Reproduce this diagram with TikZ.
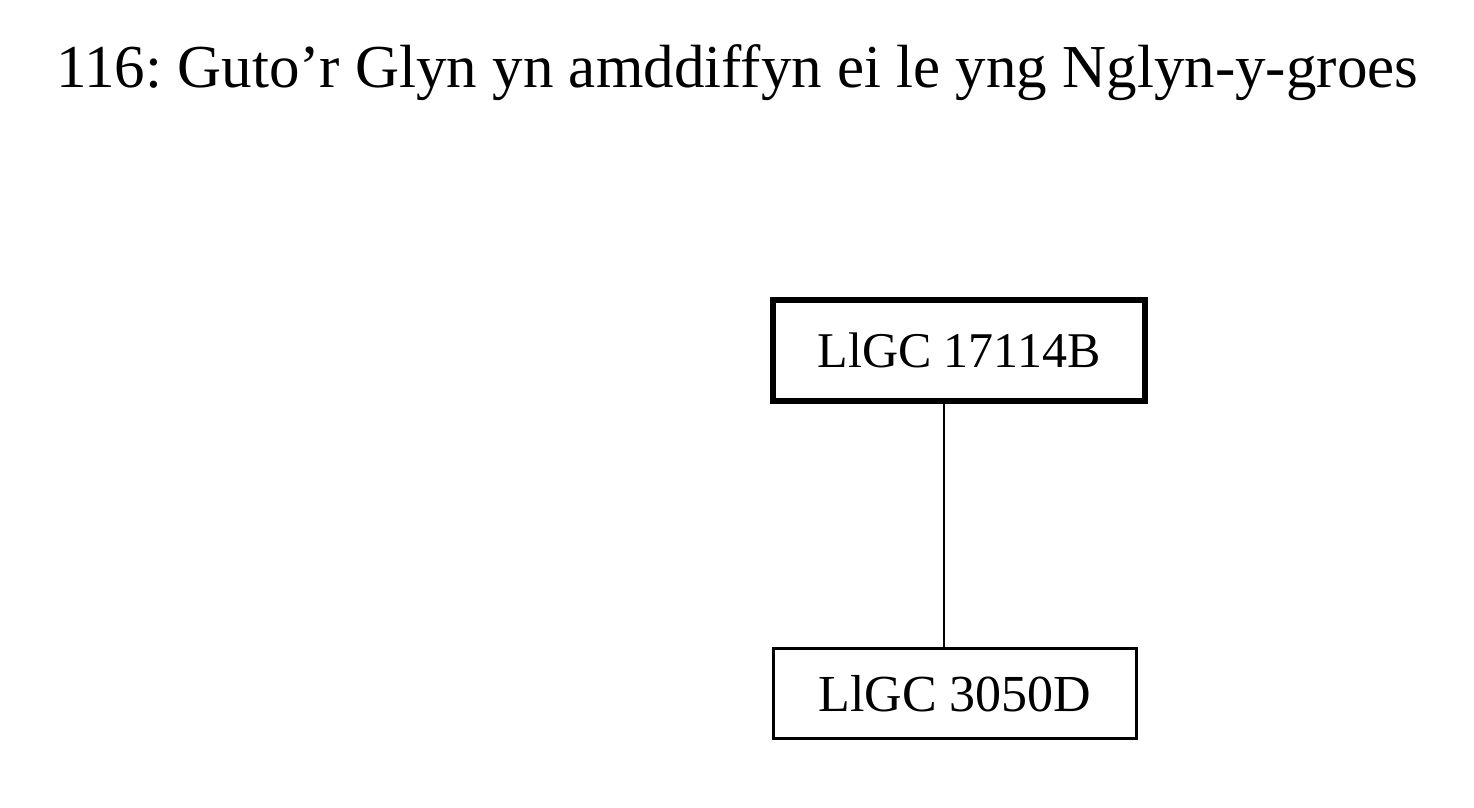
\documentclass[tikz,border=0pt]{standalone}
\usepackage{fontspec}
\setmainfont{Liberation Serif}
\frenchspacing
\begin{document}
\begin{tikzpicture}[x=1pt,y=-1pt,
  titletext/.style={anchor=base west,inner sep=0pt,font=\fontsize{61}{72}\selectfont},
  msbox/.style={draw=black,rectangle,inner sep=0pt},
  conn/.style={draw=black,line width=2.5pt}]
\useasboundingbox (0,0) rectangle (1474,807);
\node[titletext] (title) at (56,87) {116: Guto’r Glyn yn amddiffyn ei le yng Nglyn-y-groes};
\node[msbox,line width=6pt,minimum width=372pt,minimum height=101pt,font=\fontsize{50}{60}\selectfont] (b1) at (959,350.5) {LlGC 17114B};
\node[msbox,line width=2.5pt,minimum width=363pt,minimum height=90pt,font=\fontsize{52}{60}\selectfont] (b2) at (955,693.5) {LlGC 3050D};
\coordinate (lx) at (944,0);
\draw[conn] (b1.south -| lx) -- (b2.north -| lx);
\end{tikzpicture}
\end{document}
